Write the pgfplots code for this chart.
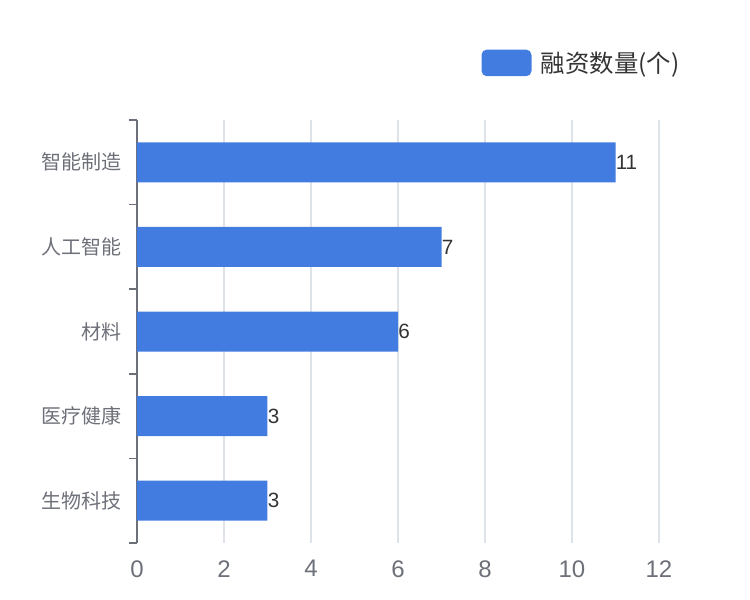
\documentclass[border=0pt]{standalone}
\usepackage{pgfplots}
\pgfplotsset{compat=1.18}
\usepackage{fontspec}
\setmainfont{Liberation Sans}
\newfontfamily\cjk{Noto Sans CJK SC}
\definecolor{barblue}{RGB}{67,124,224}
\definecolor{axisgray}{RGB}{110,112,121}
\definecolor{gridgray}{RGB}{222,227,234}
\definecolor{valgray}{RGB}{51,51,51}
\begin{document}
\begin{tikzpicture}
\begin{axis}[
  scale only axis,
  width=391.5pt, height=317.25pt,
  xbar, bar width=30pt,
  xmin=0, xmax=12,
  ymin=-0.5, ymax=4.5,
  axis lines=left,
  x axis line style={draw=none},
  y axis line style={draw=axisgray, line width=1.3pt, -},
  xtick={0,2,4,6,8,10,12},
  ytick={0,1,2,3,4},
  yticklabels={生物科技,医疗健康,材料,人工智能,智能制造},
  yticklabel style={font=\cjk\fontsize{15}{17}\selectfont, text=axisgray, xshift=-8pt},
  xticklabel style={font=\fontsize{18}{20}\selectfont, text=axisgray, yshift=-9.5pt},
  /pgf/number format/assume math mode=true,
  major tick length=0pt,
  tick style={draw=axisgray, line width=1.3pt},
  extra y ticks={-0.5,0.5,1.5,2.5,3.5,4.5},
  extra y tick labels={},
  extra y tick style={major tick length=6pt, tick align=outside, grid=none},
  xmajorgrids, grid style={draw=gridgray, line width=1pt},
  nodes near coords,
  nodes near coords style={font=\fontsize{15.5}{17}\selectfont, text=valgray, anchor=west, inner sep=0pt},
  legend style={draw=none, fill=none, at={(0.852,1.135)}, anchor=center,
    font=\cjk\fontsize{18.3}{20}\selectfont, text=valgray},
  legend image code/.code={\fill[barblue, rounded corners=4pt] (0pt,-10pt) rectangle (37.5pt,10pt);},
  legend cell align=left,
  legend style={/tikz/every even column/.append style={column sep=0pt}},
]
\addplot[fill=barblue, draw=none] coordinates {(3,0) (3,1) (6,2) (7,3) (11,4)};
\addlegendentry{\hspace{5pt}融资数量(个)}
\end{axis}
\useasboundingbox (-102.75pt,-42.75pt) rectangle (459.75pt,407.25pt);
\end{tikzpicture}
\end{document}
